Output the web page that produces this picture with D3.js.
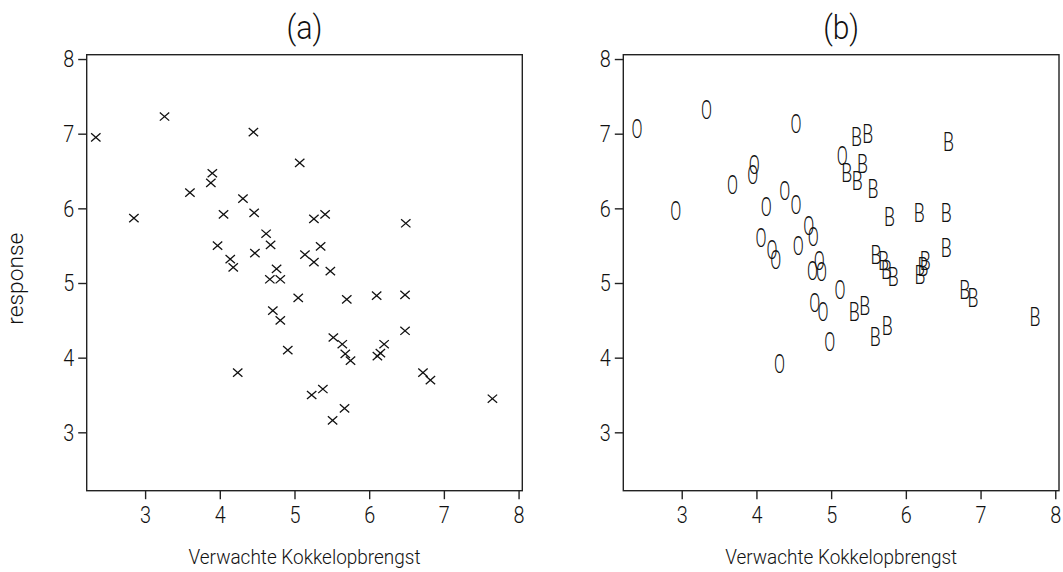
<!DOCTYPE html>
<html>
<head>
<meta charset="utf-8">
<script src="https://cdn.jsdelivr.net/npm/d3@7"></script>
<style>
  html, body { margin: 0; padding: 0; background: #fff; }
  svg { display: block; }
  text { font-family: Roboto, "Liberation Sans Narrow", "DejaVu Sans Condensed", sans-serif; font-weight: 300; fill: #111; }
</style>
</head>
<body>
<svg id="chart" width="1063" height="572"></svg>
<script>
// ---- data ----
const xTicks = [3, 4, 5, 6, 7, 8];
const yTicks = [3, 4, 5, 6, 7, 8];
const titles = ["(a)", "(b)"];
const xTitle = "Verwachte Kokkelopbrengst";
const yTitle = "response";

// panel (a): all observations
const aX = [2.34, 3.26, 4.45, 5.07, 3.90, 3.88, 3.60, 4.31, 2.85, 4.05,
            4.46, 5.26, 5.41, 6.49, 4.62, 4.68, 3.97, 5.35, 4.47, 5.14,
            4.14, 5.26, 4.18, 4.76, 5.48, 4.67, 4.81, 5.05, 5.70, 6.10,
            6.48, 4.71, 4.81, 6.48, 5.52, 5.64, 6.20, 4.91, 5.68, 5.75,
            6.11, 6.15, 4.24, 6.72, 6.82, 5.23, 5.38, 5.67, 5.51, 7.65];
const aY = [6.95, 7.23, 7.02, 6.61, 6.47, 6.34, 6.21, 6.13, 5.87, 5.92,
            5.94, 5.86, 5.92, 5.80, 5.66, 5.51, 5.50, 5.49, 5.40, 5.38,
            5.32, 5.28, 5.21, 5.19, 5.16, 5.05, 5.05, 4.80, 4.78, 4.83,
            4.84, 4.63, 4.50, 4.36, 4.27, 4.18, 4.18, 4.10, 4.05, 3.96,
            4.02, 4.06, 3.80, 3.80, 3.70, 3.50, 3.58, 3.32, 3.16, 3.45];

// panel (b): group "O"
const oX = [2.40, 3.33, 4.53, 5.15, 3.97, 3.95, 3.68, 4.38, 2.92, 4.13,
            4.53, 4.70, 4.76, 4.06, 4.56, 4.21, 4.26, 4.84, 4.75, 4.87,
            5.12, 4.78, 4.89, 4.98, 4.31];
const oY = [7.06, 7.32, 7.13, 6.70, 6.58, 6.45, 6.31, 6.23, 5.97, 6.02,
            6.04, 5.77, 5.62, 5.60, 5.50, 5.44, 5.31, 5.30, 5.16, 5.15,
            4.90, 4.73, 4.61, 4.21, 3.91];
// panel (b): group "B"
const bX = [5.34, 5.49, 6.57, 5.42, 5.21, 5.35, 5.56, 5.78, 6.18, 6.54,
            6.54, 5.60, 5.70, 5.74, 5.83, 6.26, 6.23, 6.19, 6.79, 6.90,
            5.31, 5.45, 7.73, 5.75, 5.59];
const bY = [6.96, 7.00, 6.89, 6.59, 6.48, 6.37, 6.26, 5.88, 5.94, 5.94,
            5.47, 5.37, 5.30, 5.18, 5.08, 5.29, 5.21, 5.11, 4.90, 4.80,
            4.61, 4.69, 4.55, 4.42, 4.28];

// ---- layout ----
const svg = d3.select("#chart");
const xDomain = [2.218, 8.05];
const yDomain = [2.218, 8.058];
const plotTop = 54.7, plotBottom = 490.7;
const panels = [
  { left: 86.7, right: 522.3 },
  { left: 623.3, right: 1059.0 }
];
const fontStack = "Roboto,'Liberation Sans Narrow','DejaVu Sans Condensed',sans-serif";

const y = d3.scaleLinear().domain(yDomain).range([plotBottom, plotTop]);

function styleTickText(sel) {
  sel.attr("font-size", 24).attr("fill", "#111")
    .style("font-family", fontStack).style("font-weight", 300)
    .attr("textLength", 11).attr("lengthAdjust", "spacingAndGlyphs");
}

panels.forEach((p, i) => {
  const x = d3.scaleLinear().domain(xDomain).range([p.left, p.right]);
  p.x = x;
  const g = svg.append("g");

  // frame
  g.append("rect")
    .attr("x", p.left).attr("y", plotTop)
    .attr("width", p.right - p.left).attr("height", plotBottom - plotTop)
    .attr("fill", "none").attr("stroke", "#222").attr("stroke-width", 1.4);

  // x axis
  const xa = g.append("g").attr("transform", `translate(0,${plotBottom})`)
    .call(d3.axisBottom(x).tickValues(xTicks).tickFormat(d3.format("d")).tickSize(8.5).tickPadding(7));
  xa.select(".domain").remove();
  xa.selectAll(".tick line").attr("stroke", "#222").attr("stroke-width", 1.4);
  styleTickText(xa.selectAll(".tick text"));

  // y axis
  const ya = g.append("g").attr("transform", `translate(${p.left},0)`)
    .call(d3.axisLeft(y).tickValues(yTicks).tickFormat(d3.format("d")).tickSize(8.5).tickPadding(4));
  ya.select(".domain").remove();
  ya.selectAll(".tick line").attr("stroke", "#222").attr("stroke-width", 1.4);
  styleTickText(ya.selectAll(".tick text"));

  // title
  g.append("text")
    .attr("x", (p.left + p.right) / 2).attr("y", 39)
    .attr("text-anchor", "middle").attr("font-size", 34)
    .attr("textLength", 36).attr("lengthAdjust", "spacingAndGlyphs")
    .text(titles[i]);

  // x title
  g.append("text")
    .attr("x", (p.left + p.right) / 2).attr("y", 564)
    .attr("text-anchor", "middle").attr("font-size", 21)
    .attr("textLength", 232).attr("lengthAdjust", "spacingAndGlyphs")
    .text(xTitle);
});

// y title (left panel only)
svg.append("text")
  .attr("transform", `translate(23,${(plotTop + plotBottom) / 2 + 6}) rotate(-90)`)
  .attr("text-anchor", "middle").attr("font-size", 22)
  .attr("textLength", 92).attr("lengthAdjust", "spacingAndGlyphs")
  .text(yTitle);

// panel (a) markers: X crosses
const xsa = panels[0].x;
const aData = aX.map((v, i) => ({ x: v, y: aY[i] }));
svg.append("g").selectAll("path").data(aData).join("path")
  .attr("d", d => {
    const cx = xsa(d.x), cy = y(d.y), hw = 4.7, hh = 4.1;
    const pth = d3.path();
    pth.moveTo(cx - hw, cy - hh); pth.lineTo(cx + hw, cy + hh);
    pth.moveTo(cx - hw, cy + hh); pth.lineTo(cx + hw, cy - hh);
    return pth.toString();
  })
  .attr("stroke", "#111").attr("stroke-width", 1.3).attr("fill", "none");

// panel (b) markers: letters
const xsb = panels[1].x;
const letters = [
  ...oX.map((v, i) => ({ x: v, y: oY[i], t: "O" })),
  ...bX.map((v, i) => ({ x: v, y: bY[i], t: "B" }))
];
svg.append("g").selectAll("text").data(letters).join("text")
  .attr("x", d => xsb(d.x) - 5.5)
  .attr("y", d => y(d.y) + 9)
  .attr("font-size", 25)
  .attr("textLength", 11).attr("lengthAdjust", "spacingAndGlyphs")
  .text(d => d.t);
</script>
</body>
</html>
